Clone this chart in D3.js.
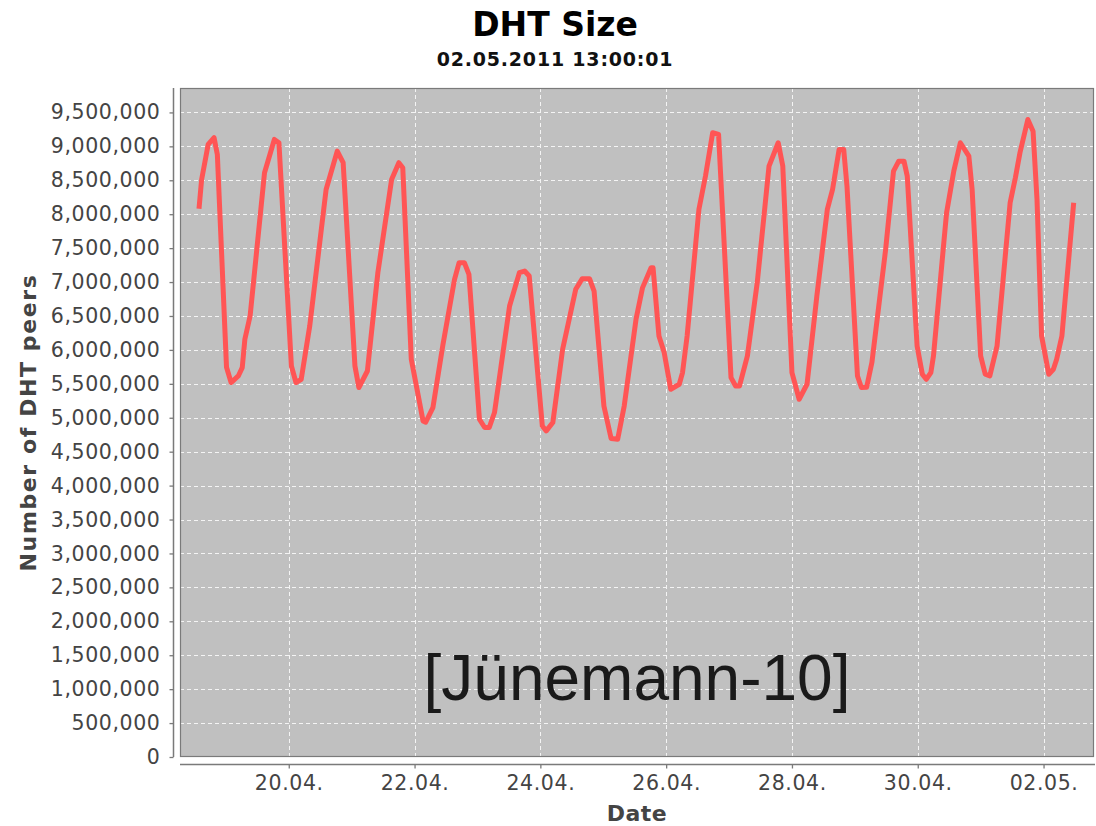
<!DOCTYPE html>
<html>
<head>
<meta charset="utf-8">
<script src="https://cdn.jsdelivr.net/npm/d3@7"></script>
<style>
  html, body { margin: 0; padding: 0; background: #fff; }
  svg { display: block; }
</style>
</head>
<body>
<svg id="chart" width="1096" height="826"></svg>
<script>
// DHT size measurements (timestamp, number of peers)
const times = [
  "2011-04-18 13:45","2011-04-18 14:45","2011-04-18 17:15","2011-04-18 19:30","2011-04-18 20:45",
  "2011-04-19 00:15","2011-04-19 02:00","2011-04-19 04:45","2011-04-19 06:15","2011-04-19 07:15",
  "2011-04-19 09:15","2011-04-19 14:45","2011-04-19 18:30","2011-04-19 20:15",
  "2011-04-20 01:00","2011-04-20 02:45","2011-04-20 04:45","2011-04-20 08:00","2011-04-20 14:15",
  "2011-04-20 18:30","2011-04-20 20:45",
  "2011-04-21 01:15","2011-04-21 02:45","2011-04-21 06:00","2011-04-21 10:00","2011-04-21 15:15",
  "2011-04-21 18:00","2011-04-21 19:30","2011-04-21 22:45",
  "2011-04-22 03:15","2011-04-22 04:15","2011-04-22 07:00","2011-04-22 10:45","2011-04-22 15:15",
  "2011-04-22 17:00","2011-04-22 19:00","2011-04-22 20:45",
  "2011-04-23 00:45","2011-04-23 02:45","2011-04-23 04:30","2011-04-23 06:30","2011-04-23 12:15",
  "2011-04-23 16:00","2011-04-23 18:00","2011-04-23 19:45",
  "2011-04-24 00:45","2011-04-24 02:15","2011-04-24 04:45","2011-04-24 08:30","2011-04-24 13:30",
  "2011-04-24 16:00","2011-04-24 18:45","2011-04-24 20:30",
  "2011-04-25 00:15","2011-04-25 03:00","2011-04-25 05:30","2011-04-25 08:00","2011-04-25 12:30",
  "2011-04-25 15:00","2011-04-25 18:15","2011-04-25 19:00","2011-04-25 21:15","2011-04-25 23:15",
  "2011-04-26 01:45","2011-04-26 05:00","2011-04-26 06:15","2011-04-26 08:00","2011-04-26 12:30",
  "2011-04-26 15:00","2011-04-26 17:45","2011-04-26 20:00",
  "2011-04-27 00:45","2011-04-27 02:30","2011-04-27 04:00","2011-04-27 07:00","2011-04-27 10:45",
  "2011-04-27 15:15","2011-04-27 18:45","2011-04-27 20:30",
  "2011-04-28 00:00","2011-04-28 02:45","2011-04-28 05:45","2011-04-28 09:30","2011-04-28 13:30",
  "2011-04-28 15:30","2011-04-28 18:00","2011-04-28 19:45","2011-04-28 21:00",
  "2011-04-29 01:00","2011-04-29 02:30","2011-04-29 04:30","2011-04-29 06:30","2011-04-29 11:45",
  "2011-04-29 14:45","2011-04-29 16:45","2011-04-29 18:45","2011-04-29 20:00","2011-04-29 23:45",
  "2011-04-30 01:45","2011-04-30 03:15","2011-04-30 05:00","2011-04-30 06:00","2011-04-30 10:00",
  "2011-04-30 11:00","2011-04-30 13:45","2011-04-30 16:15","2011-04-30 19:30","2011-04-30 20:45",
  "2011-05-01 00:00","2011-05-01 01:45","2011-05-01 03:30","2011-05-01 06:15","2011-05-01 11:15",
  "2011-05-01 13:15","2011-05-01 15:00","2011-05-01 18:00","2011-05-01 20:00","2011-05-01 21:30",
  "2011-05-01 23:15","2011-05-02 02:00","2011-05-02 03:45","2011-05-02 05:00","2011-05-02 07:00",
  "2011-05-02 11:30"
];
const peers = [
  8080000, 8510000, 9028000, 9127000, 8881000,
  5744000, 5519000, 5616000, 5739000, 6156000,
  6499000, 8611000, 9102000, 9053000,
  5763000, 5519000, 5567000, 6352000, 8365000,
  8930000, 8759000,
  5763000, 5445000, 5689000, 7139000, 8513000,
  8759000, 8685000, 5862000,
  4953000, 4934000, 5150000, 6058000, 7040000,
  7286000, 7286000, 7114000,
  4978000, 4856000, 4856000, 5077000, 6647000,
  7139000, 7162000, 7089000,
  4879000, 4806000, 4929000, 6009000, 6893000,
  7050000, 7050000, 6868000,
  5174000, 4694000, 4683000, 5174000, 6451000,
  6918000, 7212000, 7212000, 6205000, 5960000,
  5420000, 5494000, 5666000, 6205000, 8071000,
  8561000, 9200000, 9176000,
  5592000, 5469000, 5469000, 5911000, 6991000,
  8709000, 9053000, 8709000,
  5666000, 5273000, 5494000, 6794000, 8071000,
  8365000, 8955000, 8955000, 8414000,
  5616000, 5445000, 5449000, 5813000, 7482000,
  8635000, 8782000, 8782000, 8561000, 6058000,
  5641000, 5567000, 5666000, 5911000, 7604000,
  8022000, 8635000, 9053000, 8856000, 8365000,
  5911000, 5641000, 5616000, 6058000, 8170000,
  8538000, 8906000, 9396000, 9224000, 8218000,
  6205000, 5641000, 5714000, 5862000, 6205000,
  8170000
];

// Axis ticks
const dateTicks = ["2011-04-20","2011-04-22","2011-04-24","2011-04-26","2011-04-28","2011-04-30","2011-05-02"];
const peerTicks = [0,500000,1000000,1500000,2000000,2500000,3000000,3500000,4000000,4500000,
                   5000000,5500000,6000000,6500000,7000000,7500000,8000000,8500000,9000000,9500000];
const dateRange = ["2011-04-18 06:30", "2011-05-02 19:15"];
const peerMax = 9860000;

// Texts
const titleText = "DHT Size";
const subtitleText = "02.05.2011 13:00:01";
const xLabel = "Date";
const yLabel = "Number of DHT peers";
const stampText = "[Jünemann-10]";

const parseTime = d3.utcParse("%Y-%m-%d %H:%M");
const parseDay = d3.utcParse("%Y-%m-%d");
const data = times.map((t, i) => ({ t: parseTime(t), v: peers[i] }));

const plot = { left: 180, right: 1094, top: 88, bottom: 757 };

const x = d3.scaleUtc()
  .domain(dateRange.map(parseTime))
  .range([plot.left, plot.right]);
const y = d3.scaleLinear()
  .domain([0, peerMax])
  .range([plot.bottom, plot.top]);

const svg = d3.select("#chart");
const FONT = "'DejaVu Sans', Verdana, sans-serif";

svg.append("rect").attr("width", 1096).attr("height", 826).attr("fill", "#fff");

// Plot background
svg.append("rect")
  .attr("x", plot.left).attr("y", plot.top)
  .attr("width", plot.right - plot.left).attr("height", plot.bottom - plot.top)
  .attr("fill", "#c0c0c0");

// Gridlines
const grid = svg.append("g").attr("stroke", "#f4f4f4").attr("stroke-width", 1)
  .attr("stroke-dasharray", "4,3").attr("fill", "none");
grid.selectAll("line.h").data(peerTicks.filter(d => d > 0)).join("line")
  .attr("class", "h")
  .attr("x1", plot.left).attr("x2", plot.right)
  .attr("y1", d => Math.round(y(d)) + 0.5).attr("y2", d => Math.round(y(d)) + 0.5);
grid.selectAll("line.v").data(dateTicks.map(parseDay)).join("line")
  .attr("class", "v")
  .attr("y1", plot.top).attr("y2", plot.bottom)
  .attr("x1", d => Math.round(x(d)) + 0.5).attr("x2", d => Math.round(x(d)) + 0.5);

// Plot border
svg.append("rect")
  .attr("x", plot.left + 0.5).attr("y", plot.top + 0.5)
  .attr("width", plot.right - plot.left - 1).attr("height", plot.bottom - plot.top - 1)
  .attr("fill", "none").attr("stroke", "#7a7a7a").attr("stroke-width", 1.2);

// Data line
const line = d3.line().x(d => x(d.t)).y(d => y(d.v));
svg.append("path")
  .datum(data)
  .attr("d", line)
  .attr("fill", "none")
  .attr("stroke", "#ff5555")
  .attr("stroke-width", 5)
  .attr("stroke-linejoin", "round")
  .attr("stroke-linecap", "butt");

// Y axis
const yAxis = d3.axisLeft(y)
  .tickValues(peerTicks)
  .tickFormat(d3.format(","))
  .tickSize(4)
  .tickPadding(9);
const gy = svg.append("g").attr("transform", `translate(${plot.left - 6.5},0)`).call(yAxis);
gy.select(".domain").attr("stroke", "#7a7a7a").attr("stroke-width", 1.5)
  .attr("d", `M0,${plot.top}V${plot.bottom}`);
gy.selectAll(".tick line").attr("stroke", "#7a7a7a").attr("stroke-width", 1.3);
gy.selectAll(".tick text").attr("fill", "#444").attr("font-family", FONT)
  .attr("font-size", 20.5).attr("letter-spacing", "0.6px");

// X axis
const xAxis = d3.axisBottom(x)
  .tickValues(dateTicks.map(parseDay))
  .tickFormat(d3.utcFormat("%d.%m."))
  .tickSize(4)
  .tickPadding(7);
const gx = svg.append("g").attr("transform", `translate(0,${plot.bottom + 7.5})`).call(xAxis);
gx.select(".domain").attr("stroke", "#7a7a7a").attr("stroke-width", 1.5)
  .attr("d", `M${plot.left},0H${plot.right + 1}`);
gx.selectAll(".tick line").attr("stroke", "#7a7a7a").attr("stroke-width", 1.3);
gx.selectAll(".tick text").attr("fill", "#444").attr("font-family", FONT)
  .attr("font-size", 20.5).attr("letter-spacing", "0.6px");

// Axis labels
svg.append("text")
  .attr("x", (plot.left + plot.right) / 2).attr("y", 821)
  .attr("text-anchor", "middle")
  .attr("font-family", FONT).attr("font-weight", "bold").attr("font-size", 22)
  .attr("fill", "#444").attr("letter-spacing", "0.5px")
  .text(xLabel);
svg.append("text")
  .attr("transform", `translate(36,${(plot.top + plot.bottom) / 2}) rotate(-90)`)
  .attr("text-anchor", "middle")
  .attr("font-family", FONT).attr("font-weight", "bold").attr("font-size", 22)
  .attr("fill", "#444").attr("letter-spacing", "1.6px")
  .text(yLabel);

// Titles
svg.append("text")
  .attr("x", 555).attr("y", 36)
  .attr("text-anchor", "middle")
  .attr("font-family", FONT).attr("font-weight", "bold").attr("font-size", 33)
  .attr("fill", "#000")
  .text(titleText);
svg.append("text")
  .attr("x", 555).attr("y", 66)
  .attr("text-anchor", "middle")
  .attr("font-family", FONT).attr("font-weight", "bold").attr("font-size", 19)
  .attr("fill", "#111").attr("letter-spacing", "0.8px")
  .text(subtitleText);

// Citation stamp
svg.append("text")
  .attr("x", 637).attr("y", 700)
  .attr("text-anchor", "middle")
  .attr("font-family", "'Liberation Sans', Arial, sans-serif").attr("font-size", 64)
  .attr("fill", "#1a1a1a")
  .text(stampText);
</script>
</body>
</html>
